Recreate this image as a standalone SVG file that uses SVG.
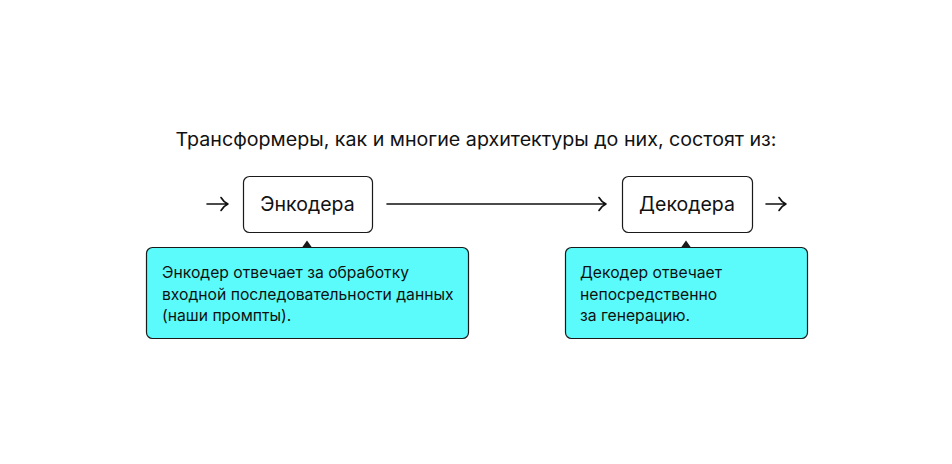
<svg xmlns="http://www.w3.org/2000/svg" width="952" height="464" viewBox="0 0 952 464">
<defs>
<style>
.t{font-family:Inter,"Noto Sans","Liberation Sans",sans-serif;fill:#111}
.box{fill:#fff;stroke:#1a1a1a;stroke-width:1.2}
.call{fill:#5cfbfb;stroke:#1a1a1a;stroke-width:1.2}
.ln{fill:none;stroke:#111;stroke-width:1.6;stroke-linecap:round;stroke-linejoin:round}
</style>
</defs>
<rect x="0" y="0" width="952" height="464" fill="#fff"/>
<text class="t" x="476" y="146" font-size="18.5" text-anchor="middle" textLength="601" lengthAdjust="spacingAndGlyphs">Трансформеры, как и многие архитектуры до них, состоят из:</text>
<g id="connectors">
<path class="ln" d="M207 204H228M221 197.5Q223.5 202 228 204Q223.5 206 221 210.5"/>
<path class="ln" d="M387 204H606M599 197.5Q601.5 202 606 204Q601.5 206 599 210.5"/>
<path class="ln" d="M766 204H786M779 197.5Q781.5 202 786 204Q781.5 206 779 210.5"/>
</g>
<g id="encoder">
<rect class="box" x="243.5" y="176.5" width="129" height="56" rx="6"/>
<text class="t" x="307.5" y="210.5" font-size="19.5" text-anchor="middle">Энкодера</text>
</g>
<g id="decoder">
<rect class="box" x="622.5" y="176.5" width="130" height="56" rx="6"/>
<text class="t" x="687" y="210.5" font-size="19.5" text-anchor="middle">Декодера</text>
</g>
<g id="encoder-note">
<rect class="call" x="146.5" y="247.5" width="322" height="91" rx="6"/>
<path d="M302 247.5L307 240.5L312 247.5Z" fill="#1a1a1a"/>
<text class="t" font-size="15.7"><tspan x="162" y="278">Энкодер отвечает за обработку</tspan><tspan x="162" y="300">входной последовательности данных</tspan><tspan x="162" y="321">(наши промпты).</tspan></text>
</g>
<g id="decoder-note">
<rect class="call" x="565.5" y="247.5" width="242" height="91" rx="6"/>
<path d="M681 247.5L686 240.5L691 247.5Z" fill="#1a1a1a"/>
<text class="t" font-size="15.7"><tspan x="580" y="278">Декодер отвечает</tspan><tspan x="580" y="300">непосредственно</tspan><tspan x="580" y="321">за генерацию.</tspan></text>
</g>
</svg>
